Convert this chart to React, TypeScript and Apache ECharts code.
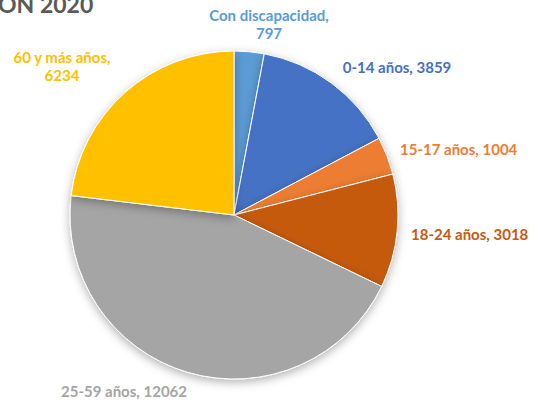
import React, { useEffect, useRef } from "react";
import * as echarts from "echarts";

const categories = ["Con discapacidad", "0-14 años", "15-17 años", "18-24 años", "25-59 años", "60 y más años"];
const values = [797, 3859, 1004, 3018, 12062, 6234];
const colors = ["#5B9BD5", "#4472C4", "#ED7D31", "#C55A11", "#A5A5A5", "#FFC000"];
const labelText = ["Con discapacidad,\n797", "0-14 años, 3859", "15-17 años, 1004", "18-24 años, 3018", "25-59 años, 12062", "60 y más años,\n6234"];
const labelPos = [
  { x: 269, y: 24, align: "center" },
  { x: 397, y: 67, align: "center" },
  { x: 400, y: 149, align: "left" },
  { x: 411, y: 234, align: "left" },
  { x: 61, y: 391, align: "left" },
  { x: 62, y: 66, align: "center" },
];

export default function App() {
  const ref = useRef<HTMLDivElement>(null);
  useEffect(() => {
    const chart = echarts.init(ref.current!, null, { renderer: "svg" });
    chart.setOption({
      animation: false,
      backgroundColor: "#ffffff",
      graphic: [
        {
          type: "text",
          left: -2,
          top: -8,
          style: { text: "ON 2020", fill: "#595959", font: "bold 23px Lato" },
        },
      ],
      series: [
        {
          type: "pie",
          center: [234, 215],
          radius: [0, 164],
          startAngle: 90,
          clockwise: true,
          avoidLabelOverlap: false,
          data: categories.map((c, i) => ({
            name: c,
            value: values[i],
            itemStyle: { color: colors[i] },
            label: { color: colors[i] },
          })),
          itemStyle: {
            borderColor: "#ffffff",
            borderWidth: 1,
            shadowBlur: 10,
            shadowColor: "rgba(0,0,0,0.3)",
            shadowOffsetY: 3,
          },
          label: {
            show: true,
            position: "outside",
            formatter: (p: any) => labelText[p.dataIndex],
            fontFamily: "Lato",
            fontWeight: "bold",
            fontSize: 15,
            lineHeight: 18,
          },
          labelLine: { show: false },
          labelLayout: (p: any) => {
            const lp = labelPos[p.dataIndex];
            return { x: lp.x, y: lp.y, align: lp.align, verticalAlign: "middle", hideOverlap: false };
          },
          emphasis: { disabled: true },
        },
      ],
    });
    return () => chart.dispose();
  }, []);
  return <div ref={ref} style={{ position: "absolute", left: 0, top: 0, width: 542, height: 404 }} />;
}
